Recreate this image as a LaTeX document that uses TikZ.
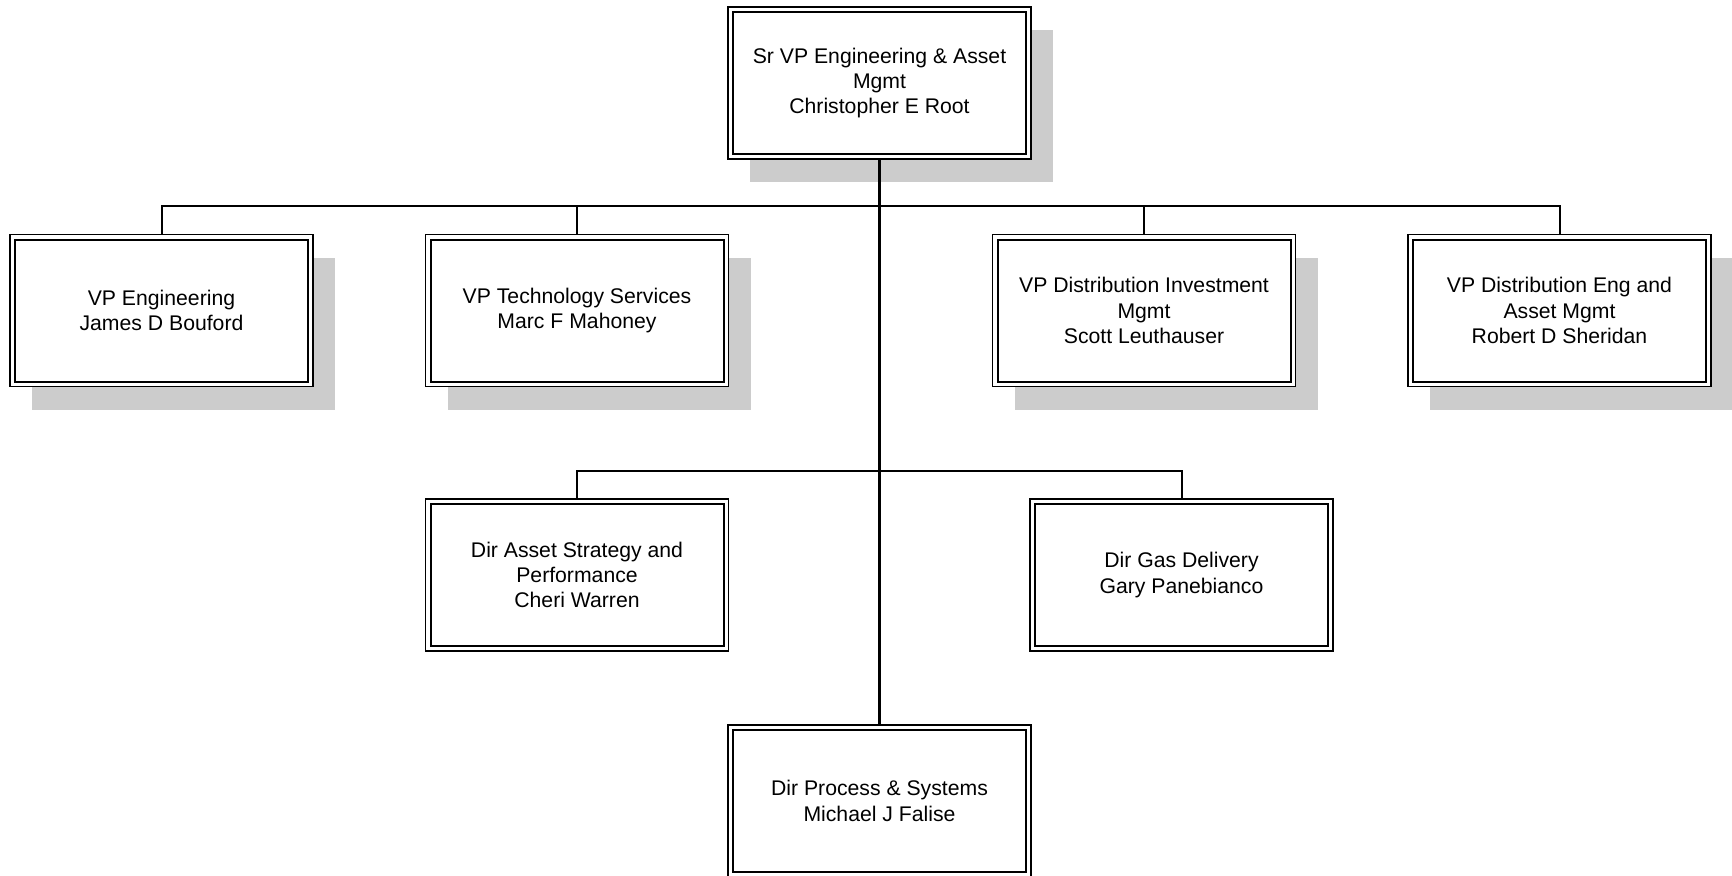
\documentclass[tikz,border=0pt]{standalone}
\usepackage{fontspec}
\setmainfont{Liberation Sans}
\usetikzlibrary{shadows}
\definecolor{shadowgray}{RGB}{204,204,204}
\tikzset{
  orgbox/.style={draw=black, line width=0.6pt, fill=white, minimum width=151.5pt, minimum height=76pt,
    inner sep=0pt, align=center, font=\fontsize{10.6}{12.7}\selectfont,
    path picture={\draw[line width=1pt]
      ([shift={(2.5pt,-2.5pt)}]path picture bounding box.north west) rectangle
      ([shift={(-2.5pt,2.5pt)}]path picture bounding box.south east);}},
  shadowed/.style={drop shadow={shadow xshift=11pt, shadow yshift=-11.5pt, fill=shadowgray, opacity=1}},
  link/.style={draw=black, line width=1pt},
  mainlink/.style={draw=black, line width=1.3pt}
}
\begin{document}
\begin{tikzpicture}[x=0.5pt,y=-0.5pt]
\useasboundingbox (0,0) rectangle (1732,875);
\node[orgbox,shadowed] (top) at (879.5,83) {Sr VP Engineering \& Asset\\Mgmt\\Christopher E Root};
\node[orgbox,shadowed] (r1a) at (161.5,310.5) {VP Engineering\\James D Bouford};
\node[orgbox,shadowed] (r1b) at (577,310.5) {VP Technology Services\\Marc F Mahoney};
\node[orgbox,shadowed] (r1c) at (1144,310.5) {VP Distribution Investment\\Mgmt\\Scott Leuthauser};
\node[orgbox,shadowed] (r1d) at (1559.5,310.5) {VP Distribution Eng and\\Asset Mgmt\\Robert D Sheridan};
\node[orgbox] (d1) at (577,575) {Dir Asset Strategy and\\Performance\\Cheri Warren};
\node[orgbox] (d2) at (1181.5,575) {Dir Gas Delivery\\Gary Panebianco};
\node[orgbox] (d3) at (879.5,801) {Dir Process \& Systems\\Michael J Falise};
\coordinate (bus1) at (879.5,206);
\coordinate (bus2) at (879.5,471);
\draw[link] (r1a.north) |- (bus1) -| (r1d.north);
\draw[link] (r1b.north) -- (r1b.north |- bus1);
\draw[link] (r1c.north) -- (r1c.north |- bus1);
\draw[link] (d1.north) |- (bus2) -| (d2.north);
\draw[mainlink] (top.south) -- (d3.north);
\end{tikzpicture}
\end{document}
